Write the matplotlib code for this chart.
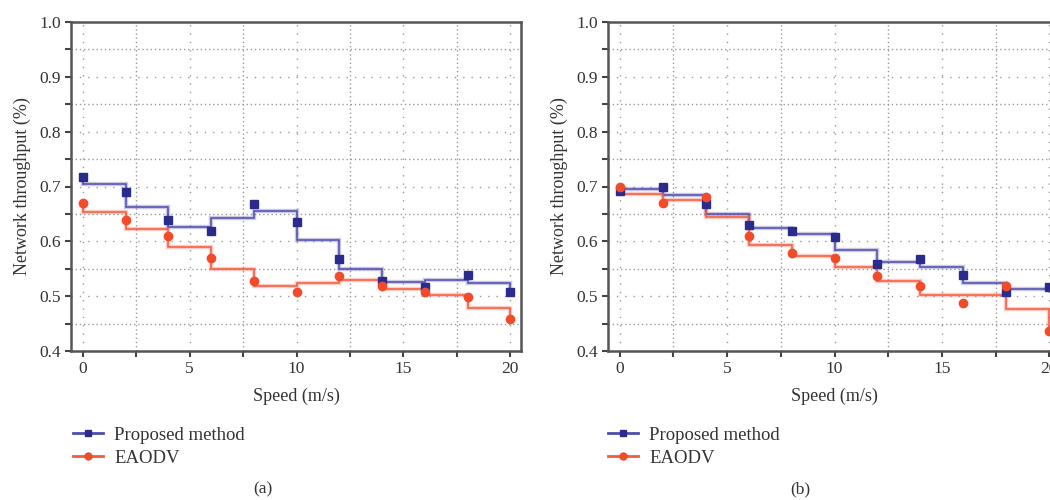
import matplotlib.pyplot as plt
import numpy as np
from matplotlib.ticker import MultipleLocator
from matplotlib.lines import Line2D

plt.rcParams['font.family'] = ['Liberation Serif', 'DejaVu Serif']

speed = [0, 2, 4, 6, 8, 10, 12, 14, 16, 18, 20]

# (a) measured points
a_prop = [0.718, 0.690, 0.639, 0.618, 0.668, 0.636, 0.567, 0.528, 0.517, 0.539, 0.508]
a_eaodv = [0.669, 0.638, 0.609, 0.569, 0.528, 0.508, 0.537, 0.519, 0.508, 0.499, 0.459]
# (a) step levels (one per interval)
a_prop_step = [0.704, 0.663, 0.627, 0.643, 0.655, 0.603, 0.550, 0.525, 0.530, 0.524]
a_eaodv_step = [0.654, 0.623, 0.589, 0.549, 0.519, 0.524, 0.529, 0.513, 0.503, 0.478]

# (b) measured points
b_prop = [0.691, 0.699, 0.668, 0.630, 0.618, 0.607, 0.558, 0.567, 0.539, 0.508, 0.517]
b_eaodv = [0.700, 0.669, 0.680, 0.609, 0.578, 0.569, 0.537, 0.519, 0.487, 0.519, 0.436]
# (b) step levels
b_prop_step = [0.695, 0.685, 0.649, 0.625, 0.613, 0.584, 0.562, 0.553, 0.524, 0.513]
b_eaodv_step = [0.686, 0.676, 0.644, 0.593, 0.573, 0.554, 0.528, 0.503, 0.503, 0.477]

series_names = ['Proposed method', 'EAODV']
blue_mk, blue_ln = '#2b2b8c', '#4d4dab'
red_mk, red_ln = '#f24b2a', '#f45a3c'


def step_path(x, pts, levels):
    # start at first point, walk the levels, end at last point
    xs = [x[0]]
    ys = [pts[0]]
    for i, lv in enumerate(levels):
        xs += [x[i], x[i + 1]]
        ys += [lv, lv]
    xs.append(x[-1])
    ys.append(pts[-1])
    return xs, ys


def panel(ax, pts_list, step_list):
    for pts, lv, mk, ln, m in zip(pts_list, step_list, [blue_mk, red_mk],
                                  [blue_ln, red_ln], ['s', 'o']):
        xs, ys = step_path(speed, pts, lv)
        ax.plot(xs, ys, color=ln, lw=3.2, alpha=0.3, zorder=3, solid_joinstyle='miter')
        ax.plot(xs, ys, color=ln, lw=1.1, zorder=4, solid_joinstyle='miter')
        ax.plot(speed, pts, m, color=mk, ms=6, zorder=5, linestyle='none')

    ax.set_xlim(-0.55, 20.5)
    ax.set_ylim(0.4, 1.0)
    ax.xaxis.set_major_locator(MultipleLocator(5))
    ax.xaxis.set_minor_locator(MultipleLocator(2.5))
    ax.yaxis.set_major_locator(MultipleLocator(0.1))
    ax.yaxis.set_minor_locator(MultipleLocator(0.05))
    ax.yaxis.set_major_formatter(plt.FormatStrFormatter('%.1f'))
    ax.grid(which='major', color='#999999', linestyle=(0, (1, 5)), lw=1.0)
    ax.grid(which='minor', color='#999999', linestyle=(0, (1, 2)), lw=1.0)
    ax.set_axisbelow(True)
    ax.tick_params(which='both', direction='out', length=4, width=1.5,
                   color='#444444', labelsize=12.5, labelcolor='#333333')
    ax.tick_params(axis='x', pad=3)
    for s in ['left', 'bottom', 'top', 'right']:
        ax.spines[s].set_color('#555555')
        ax.spines[s].set_linewidth(1.8)
    ax.set_xlabel('Speed (m/s)', fontsize=13, color='#333333', labelpad=8)
    ax.set_ylabel('Network throughput (%)', fontsize=13, color='#333333', labelpad=6)


fig = plt.figure(figsize=(10.5, 5.0), dpi=100)
ax1 = fig.add_axes([71 / 1050, 1 - 351 / 500, 450 / 1050, 329 / 500])
ax2 = fig.add_axes([608 / 1050, 1 - 351 / 500, 452 / 1050, 329 / 500])

panel(ax1, [a_prop, a_eaodv], [a_prop_step, a_eaodv_step])
panel(ax2, [b_prop, b_eaodv], [b_prop_step, b_eaodv_step])

handles = [Line2D([], [], color=blue_ln, lw=2.0, marker='s', ms=5, mfc=blue_mk, mec=blue_mk),
           Line2D([], [], color=red_ln, lw=2.0, marker='o', ms=5, mfc=red_mk, mec=red_mk)]

for x0 in [56 / 1050, 591 / 1050]:
    fig.legend(handles, series_names, loc='upper left', bbox_to_anchor=(x0, 1 - 410 / 500),
               frameon=False, fontsize=13.5, handlelength=1.6, handletextpad=0.6,
               labelspacing=0.3, labelcolor='#333333')

fig.text(263 / 1050, 1 - 489 / 500, '(a)', ha='center', va='center', fontsize=12.5, color='#333333')
fig.text(800 / 1050, 1 - 489 / 500, '(b)', ha='center', va='center', fontsize=12.5, color='#333333')

fig.savefig('out.png', dpi=100)
